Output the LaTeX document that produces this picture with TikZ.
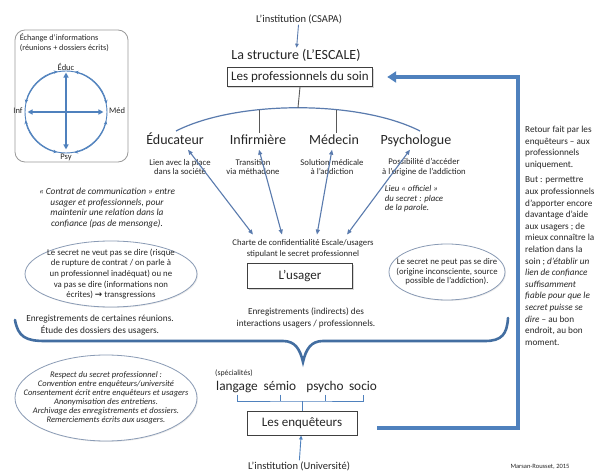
\documentclass[tikz,border=0pt]{standalone}
\usepackage{fontspec}
\setmainfont{Carlito}
\newfontfamily\symfont{DejaVu Sans}
\usetikzlibrary{arrows.meta,shadows,shapes.geometric,calc}
\definecolor{accent}{HTML}{4F81BD}
\definecolor{arblue}{HTML}{5A7BAE}
\definecolor{ellcol}{HTML}{8A9BB5}
\definecolor{txt}{HTML}{262626}
\begin{document}
\begin{tikzpicture}[x=1pt,y=-1pt,
  every node/.style={text=txt},
  bigtext/.style={font=\fontsize{14}{16}\selectfont, inner sep=1pt, text height=10pt, text depth=3pt},
  smalltext/.style={font=\fontsize{8.7}{9.8}\selectfont, align=center, inner sep=0pt},
  itext/.style={font=\fontsize{9.3}{10.5}\selectfont\itshape, align=center, inner sep=0pt},
  boxnode/.style={draw=black!75, line width=0.9pt, fill=white, font=\fontsize{13}{15}\selectfont, inner xsep=4pt, inner ysep=4pt, drop shadow={opacity=0.3, shadow xshift=1.2pt, shadow yshift=-1.2pt}},
  ellnode/.style={ellipse, draw=ellcol, line width=0.8pt, inner sep=0pt, fill=white, drop shadow={opacity=0.15, shadow xshift=1pt, shadow yshift=-1pt}},
  dblarrow/.style={arblue, line width=1.1pt, {Triangle[length=5pt,width=4pt]}-{Triangle[length=5pt,width=4pt]}},
  smallarrow/.style={arblue, line width=0.9pt, -{Triangle[length=4pt,width=3.5pt]}},
  arcline/.style={draw=arblue, line width=1.2pt},
  tickline/.style={draw=black!65, line width=0.9pt},
  bracketline/.style={draw=accent, line width=0.9pt},
  retline/.style={draw=accent, line width=3.5pt, -{Triangle[length=9pt,width=11pt]}},
  bracecurve/.style={draw=accent!85!black, line width=2.6pt, line cap=round},
  circarrow/.style={accent, line width=0.8pt, {Stealth[length=3.5pt,width=3.5pt]}-{Stealth[length=3.5pt,width=3.5pt]}},
  crossarrow/.style={accent, line width=1.4pt, {Triangle[length=5pt,width=5pt]}-{Triangle[length=5pt,width=5pt]}},
  lab/.style={font=\fontsize{8.5}{9}\selectfont, inner sep=0pt}
]
\fill[white] (0,0) rectangle (606,473);
\useasboundingbox (0,0) rectangle (606,473);

% ---------- top-left exchange box
\node[draw=black!40, line width=0.8pt, rounded corners=10pt, minimum width=113pt, minimum height=132pt, inner sep=0pt] (tl) at (71.5,96) {};
\node[anchor=north west, font=\fontsize{8.2}{9.5}\selectfont, align=left, inner sep=0pt] (tltitle) at ([xshift=5pt,yshift=-4pt]tl.north west) {Échange d'informations\\(réunions + dossiers écrits)};
\node[circle, draw=accent, line width=0.9pt, minimum size=82pt, inner sep=0pt] (circ) at (66,112) {};
\draw[circarrow] (circ.12) arc[start angle=12, end angle=78, radius=41pt];
\draw[circarrow] (circ.102) arc[start angle=102, end angle=168, radius=41pt];
\draw[circarrow] (circ.192) arc[start angle=192, end angle=258, radius=41pt];
\draw[circarrow] (circ.282) arc[start angle=282, end angle=348, radius=41pt];
\draw[crossarrow] ([yshift=-2pt]circ.north) -- ([yshift=4pt]circ.south);
\draw[crossarrow] ([xshift=3pt]circ.west) -- ([xshift=-4pt]circ.east);
\node[lab] (leduc) at (66,67) {Éduc};
\node[lab] (linf) at (18,111) {Inf};
\node[lab] (lmed) at (117,111) {Méd};
\node[lab] (lpsy) at (66,157) {Psy};

% ---------- top hierarchy
\node[font=\fontsize{10.5}{12}\selectfont, inner sep=1pt] (csapa) at (299,19) {L'institution (CSAPA)};
\node[font=\fontsize{14}{16}\selectfont, inner sep=1pt] (struct) at (296,55) {La structure (L'ESCALE)};
\draw[smallarrow] (csapa) -- (struct);
\node[boxnode] (pro) at (300,77) {Les professionnels du soin};

\draw[arcline] (176,131) .. controls (237,100) and (359,100) .. (420,131)
  coordinate[pos=0.36] (t1) coordinate[pos=0.5] (t0) coordinate[pos=0.64] (t2);
\draw[tickline] (pro.south) -- (t0);

\node[bigtext] (educ) at (175,141) {Éducateur};
\node[bigtext] (inf) at (258,141) {Infirmière};
\node[bigtext] (med) at (334,141) {Médecin};
\node[bigtext] (psy) at (416,141) {Psychologue};
\draw[tickline] (t1) -- (t1 |- inf.north);
\draw[tickline] (t2) -- (t2 |- med.north);

\node[smalltext] (educs) at (180,167) {Lien avec la place\\dans la société};
\node[smalltext] (infs) at (253,167) {Transition\\via méthadone};
\node[smalltext] (meds) at (332,167) {Solution médicale\\à l'addiction};
\node[smalltext] (psys) at (424,167) {Possibilité d'accéder\\à l'origine de l'addiction};

\node[smalltext, font=\fontsize{8.7}{11}\selectfont] (charte) at (303,249) {Charte de confidentialité Escale/usagers\\stipulant le secret professionnel};
\node[boxnode, minimum width=105pt, minimum height=25pt] (usager) at (300,276) {L'usager};

\draw[dblarrow] ([xshift=13pt,yshift=-1pt]educ.south) -- ([xshift=-50pt,yshift=5pt]charte.north);
\draw[dblarrow] ([xshift=1pt,yshift=-1pt]inf.south) -- ([xshift=-21pt,yshift=5pt]charte.north);
\draw[dblarrow] ([xshift=-2pt,yshift=-1pt]med.south) -- ([xshift=14pt,yshift=5pt]charte.north);
\draw[dblarrow] ([xshift=-6pt,yshift=-1pt]psy.south) -- ([xshift=44pt,yshift=5pt]charte.north);

% ---------- side texts
\node[itext] (contrat) at (107,208) {« Contrat de communication » entre\\usager et professionnels, pour\\maintenir une relation dans la\\confiance (pas de mensonge).};
\node[itext, align=left, font=\fontsize{8.8}{9.6}\selectfont\itshape] (lieu) at (414,199) {Lieu « officiel »\\du secret : place\\de la parole.};

\node[ellnode, minimum width=172pt, minimum height=66pt] (ell1) at (111,274) {};
\node[smalltext, font=\fontsize{8.8}{10.7}\selectfont] (ell1t) at (ell1.center) {Le secret ne veut pas se dire (risque\\de rupture de contrat / on parle à\\un professionnel inadéquat) ou ne\\va pas se dire (informations non\\écrites) {\symfont\bfseries →} transgressions};

\node[ellnode, minimum width=116pt, minimum height=56pt] (ell2) at (447,272) {};
\node[smalltext, font=\fontsize{8.7}{9.4}\selectfont] (ell2t) at (ell2.center) {Le secret ne peut pas se dire\\(origine inconsciente, source\\possible de l'addiction).};

\node[smalltext, font=\fontsize{9.2}{12}\selectfont] (enrind) at (306,318) {Enregistrements (indirects) des\\interactions usagers / professionnels.};
\node[smalltext, font=\fontsize{9.3}{12.5}\selectfont] (enrleft) at (100,325) {Enregistrements de certaines réunions.\\Étude des dossiers des usagers.};

% ---------- brace
\draw[bracecurve] (15,320) .. controls (18,337) and (26,341) .. (45,341) -- (283,341)
  .. controls (295,341) and (300,349) .. (303,362)
  .. controls (306,349) and (311,341) .. (323,341) -- (485,341)
  .. controls (502,341) and (507,334) .. (508,318);

% ---------- lower part
\node[ellnode, minimum width=182pt, minimum height=86pt] (ell3) at (106,398) {};
\node[smalltext, font=\fontsize{8.5}{9}\selectfont\itshape] (ell3t) at (ell3.center) {Respect du secret professionnel :\\Convention entre enquêteurs/université\\Consentement écrit entre enquêteurs et usagers\\Anonymisation des entretiens.\\Archivage des enregistrements et dossiers.\\Remerciements écrits aux usagers.};

\node[font=\fontsize{7.8}{8}\selectfont, anchor=west, inner sep=0pt] (spec) at (215,373) {(spécialités)};
\node[bigtext, font=\fontsize{13.3}{15}\selectfont] (lang) at (237,387) {langage};
\node[bigtext, font=\fontsize{13.3}{15}\selectfont] (sem) at (280,387) {sémio};
\node[bigtext, font=\fontsize{13.3}{15}\selectfont] (psyc) at (325,387) {psycho};
\node[bigtext, font=\fontsize{13.3}{15}\selectfont] (soc) at (363,387) {socio};
\node[boxnode, minimum width=110pt, minimum height=24pt] (enq) at (302,423) {Les enquêteurs};
\coordinate (bk) at (enq.north |- 0,401);
\draw[bracketline] (lang.south) |- (bk) -| (soc.south);
\draw[bracketline] (sem.south) -- (sem.south |- bk);
\draw[bracketline] (psyc.south) -- (psyc.south |- bk);
\draw[bracketline] (bk) -- (enq.north);

\node[font=\fontsize{10.5}{12}\selectfont, inner sep=1pt] (univ) at (299,466) {L'institution (Université)};
\draw[smallarrow, accent] (univ) -- (enq);

\node[font=\fontsize{6.5}{7}\selectfont, inner sep=0pt] (auth) at (540,467) {Marsan-Rousset, 2015};

% ---------- return arrow
\coordinate (rc) at (518,0);
\draw[retline] ([xshift=20pt,yshift=-5pt]enq.east) -| (rc |- pro.east) -- ([xshift=14pt]pro.east);

\node[anchor=north west, font=\fontsize{9.2}{11.6}\selectfont, align=left, inner sep=0pt] (retour) at (525,126) {Retour fait par les\\enquêteurs – aux\\professionnels\\uniquement.\\[4pt]But : permettre\\aux professionnels\\d'apporter encore\\davantage d'aide\\aux usagers ; de\\mieux connaître la\\relation dans la\\soin ; \textit{d'établir un}\\\textit{lien de confiance}\\\textit{suffisamment}\\\textit{fiable pour que le}\\\textit{secret puisse se}\\\textit{dire} – au bon\\endroit, au bon\\moment.};
\end{tikzpicture}
\end{document}
